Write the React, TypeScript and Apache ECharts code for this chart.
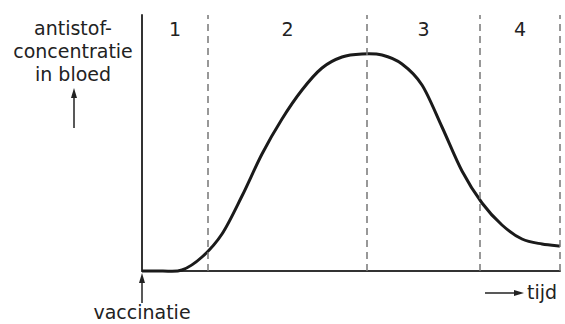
import React, { useEffect, useRef } from "react";
import * as echarts from "echarts";

// time (arbitrary units from vaccination) and antibody concentration (arbitrary units)
const curveX = [0, 20, 40, 60, 80, 100, 120, 140, 160, 180, 200, 220, 240, 260, 280, 300, 320, 340, 360, 380, 400, 418];
const curveY = [0, 0, 1, 14, 37, 75, 117, 152, 181, 203, 214, 217, 216, 207, 186, 144, 100, 68, 46, 32, 27, 25];
// phase boundaries on the time axis
const phaseBounds = [0, 66, 225, 338, 418];
const phaseLabels = ["1", "2", "3", "4"];
const yLabel = "antistof-\nconcentratie\nin bloed";
const xLabel = "tijd";
const startLabel = "vaccinatie";

const FONT = "DejaVu Sans";

export default function App() {
  const ref = useRef<HTMLDivElement>(null);
  useEffect(() => {
    document.body.style.margin = "0";
    const chart = echarts.init(ref.current!, undefined, { renderer: "svg" });
    const data = curveX.map((x, i) => [x, curveY[i]]);
    const areas = phaseLabels.map((l, i) => [
      { xAxis: phaseBounds[i], name: l },
      { xAxis: phaseBounds[i + 1] },
    ]);
    const renderCurve = (params: any, api: any) => {
      if (params.dataIndex !== 0) return null;
      const pts = data.map((d) => api.coord(d));
      const n = pts.length;
      let d = `M${pts[0][0]},${pts[0][1]}`;
      for (let i = 0; i < n - 1; i++) {
        const p0 = pts[Math.max(0, i - 1)];
        const p1 = pts[i];
        const p2 = pts[i + 1];
        const p3 = pts[Math.min(n - 1, i + 2)];
        const c1x = p1[0] + (p2[0] - p0[0]) / 6;
        const c1y = p1[1] + (p2[1] - p0[1]) / 6;
        const c2x = p2[0] - (p3[0] - p1[0]) / 6;
        const c2y = p2[1] - (p3[1] - p1[1]) / 6;
        d += ` C${c1x},${c1y} ${c2x},${c2y} ${p2[0]},${p2[1]}`;
      }
      return {
        type: "path",
        shape: { pathData: d },
        style: { stroke: "#1a1a1a", lineWidth: 3, fill: "none" },
      };
    };
    chart.setOption({
      animation: false,
      backgroundColor: "#fff",
      grid: { left: 142, right: 5, top: 15, bottom: 53, containLabel: false },
      xAxis: {
        type: "value",
        min: 0,
        max: 418,
        axisLine: { show: true, lineStyle: { color: "#333", width: 2 } },
        axisTick: { show: false },
        axisLabel: { show: false },
        splitLine: { show: false },
      },
      yAxis: {
        type: "value",
        min: 0,
        max: 256,
        axisLine: { show: true, lineStyle: { color: "#333", width: 2 } },
        axisTick: { show: false },
        axisLabel: { show: false },
        splitLine: { show: false },
      },
      series: [
        {
          type: "line",
          data,
          symbol: "none",
          lineStyle: { opacity: 0 },
          markLine: {
            silent: true,
            symbol: "none",
            label: { show: false },
            lineStyle: { color: "#777", width: 1.5, type: [7, 5] },
            data: phaseBounds.slice(1).map((b) => ({ xAxis: b })),
          },
          markArea: {
            silent: true,
            itemStyle: { color: "rgba(0,0,0,0)" },
            label: {
              show: true,
              position: "insideTop",
              distance: 4,
              color: "#222",
              fontFamily: FONT,
              fontSize: 19,
            },
            data: areas,
          },
          z: 2,
        },
        {
          type: "custom",
          data,
          renderItem: renderCurve,
          clip: false,
          silent: true,
          z: 3,
        },
      ],
      graphic: [
        {
          type: "text",
          x: 73,
          y: 16,
          style: {
            text: yLabel,
            fill: "#222",
            font: `19px "${FONT}"`,
            lineHeight: 23,
            align: "center",
            verticalAlign: "top",
          },
        },
        { type: "line", shape: { x1: 74, y1: 128, x2: 74, y2: 96 }, style: { stroke: "#222", lineWidth: 1.5 } },
        { type: "polygon", shape: { points: [[74, 88], [71, 98], [77, 98]] }, style: { fill: "#222" } },
        { type: "line", shape: { x1: 142, y1: 303, x2: 142, y2: 281 }, style: { stroke: "#222", lineWidth: 1.5 } },
        { type: "polygon", shape: { points: [[142, 273], [139, 283], [145, 283]] }, style: { fill: "#222" } },
        {
          type: "text",
          x: 142,
          y: 312,
          style: { text: startLabel, fill: "#222", font: `19px "${FONT}"`, align: "center", verticalAlign: "middle" },
        },
        { type: "line", shape: { x1: 485, y1: 293, x2: 515, y2: 293 }, style: { stroke: "#222", lineWidth: 1.5 } },
        { type: "polygon", shape: { points: [[524, 293], [514, 290], [514, 296]] }, style: { fill: "#222" } },
        {
          type: "text",
          x: 527,
          y: 292,
          style: { text: xLabel, fill: "#222", font: `19px "${FONT}"`, align: "left", verticalAlign: "middle" },
        },
      ],
    });
    return () => chart.dispose();
  }, []);
  return <div ref={ref} style={{ width: 565, height: 324, position: "absolute", left: 0, top: 0 }} />;
}
